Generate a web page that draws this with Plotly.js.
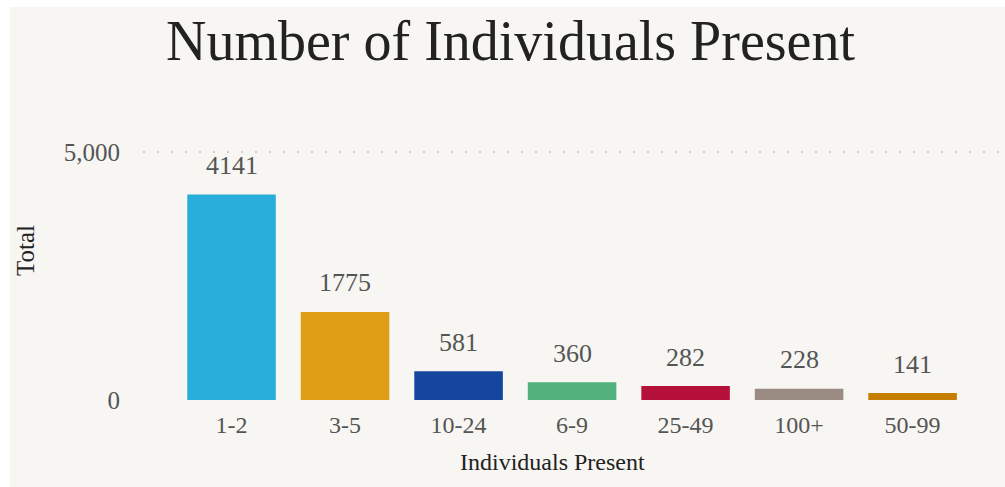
<!DOCTYPE html>
<html>
<head>
<meta charset="utf-8">
<script src="https://cdn.plot.ly/plotly-3.0.1.min.js"></script>
<style>
  html, body { margin: 0; padding: 0; background: #ffffff; }
  #chart { position: absolute; left: 10px; top: 7px; width: 995px; height: 480px; }
</style>
</head>
<body>
<div id="chart"></div>
<script>
const categories = ["1-2", "3-5", "10-24", "6-9", "25-49", "100+", "50-99"];
const totals = [4141, 1775, 581, 360, 282, 228, 141];
const barColors = ["#29aedb", "#e09e16", "#1446a0", "#52b27e", "#b5103a", "#9a8c82", "#c67e00"];

const serif = "Liberation Serif, Times New Roman, serif";

const trace = {
  type: "bar",
  x: categories,
  y: totals,
  marker: { color: barColors },
  width: 0.78,
  hoverinfo: "x+y"
};

const labelAnnotations = categories.map((c, i) => ({
  x: c, y: totals[i], xref: "x", yref: "y",
  text: String(totals[i]),
  showarrow: false, xanchor: "center", yanchor: "middle", yshift: 29,
  font: { family: serif, size: 26, color: "#555555" }
}));

const layout = {
  width: 995,
  height: 480,
  paper_bgcolor: "#f7f6f2",
  plot_bgcolor: "#f7f6f2",
  margin: { l: 133, r: 5, t: 133, b: 87 },
  separators: ".,",
  showlegend: false,
  title: {
    text: "Number of Individuals Present",
    font: { family: serif, size: 56, color: "#222222" },
    x: 0.503, xanchor: "center",
    y: 1 - 33 / 480, yref: "container", yanchor: "middle"
  },
  xaxis: {
    type: "category",
    range: [-0.78, 6.77],
    showgrid: false,
    zeroline: false,
    showline: false,
    ticks: "",
    tickfont: { family: serif, size: 24, color: "#555555" },
    ticklabelstandoff: 8
  },
  yaxis: {
    range: [0, 5242],
    tickvals: [0, 5000],
    tickformat: ",",
    showgrid: true,
    gridcolor: "#cfcfcf",
    griddash: "2px,12px",
    gridwidth: 2,
    zeroline: false,
    showline: false,
    ticks: "",
    tickfont: { family: serif, size: 25, color: "#555555" },
    ticklabelstandoff: 22
  },
  annotations: labelAnnotations.concat([
    {
      text: "Total", xref: "paper", yref: "paper",
      x: (25 - 143) / 857, y: (400 - 251) / 260,
      xanchor: "center", yanchor: "middle", textangle: -90, showarrow: false,
      font: { family: serif, size: 25, color: "#222222" }
    },
    {
      text: "Individuals Present", xref: "paper", yref: "paper",
      x: (552 - 143) / 857, y: (400 - 462) / 260,
      xanchor: "center", yanchor: "middle", showarrow: false,
      font: { family: serif, size: 24, color: "#222222" }
    }
  ])
};

Plotly.newPlot("chart", [trace], layout, { displayModeBar: false, staticPlot: true });
</script>
</body>
</html>
